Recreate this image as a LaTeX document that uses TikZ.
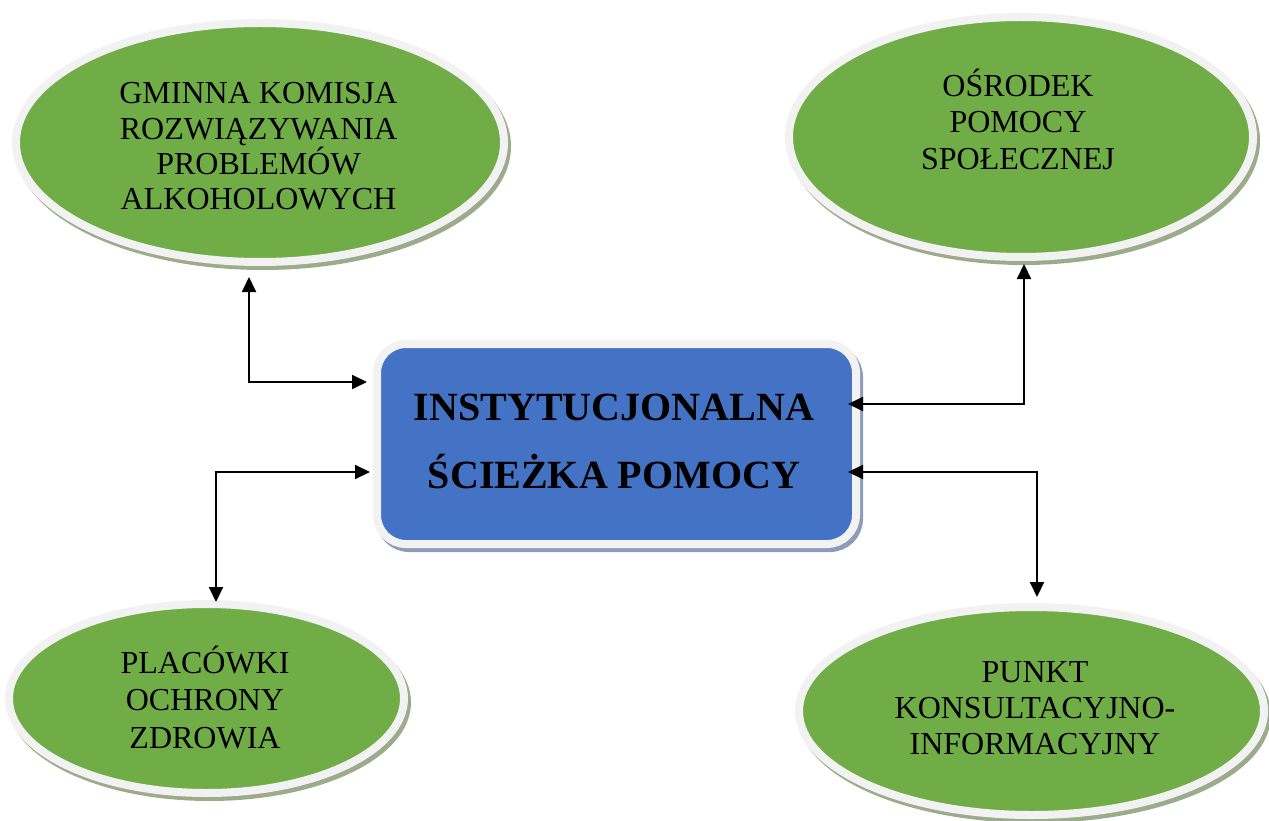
\documentclass[tikz,border=0pt]{standalone}
\usepackage{fontspec}
\setmainfont{Liberation Serif}
\usetikzlibrary{shapes.geometric,arrows.meta,calc}
\definecolor{grn}{HTML}{70AD47}
\definecolor{blu}{HTML}{4472C4}
\definecolor{rim}{HTML}{F2F2F2}
\definecolor{gshad}{HTML}{9CAB8C}
\definecolor{bshad}{HTML}{8D9CB8}
\newcommand{\ph}{\vphantom{Śy}}
\tikzset{
  ell/.style={ellipse, fill=grn, draw=rim, line width=8pt, inner sep=0pt, outer sep=4pt,
    preaction={fill=gshad, draw=gshad, line width=8pt, transform canvas={shift={(3,4)}}}},
  centerbox/.style={rectangle, rounded corners=29pt, fill=blu, draw=rim, line width=8pt,
    inner sep=0pt, outer sep=4pt,
    preaction={fill=bshad, draw=bshad, line width=8pt, transform canvas={shift={(3,4)}}}},
  txt/.style={align=center, inner sep=0pt, text=black},
  conn/.style={line width=2pt, {Triangle[length=15pt,width=14pt]}-{Triangle[length=15pt,width=14pt]}}
}
\begin{document}
\begin{tikzpicture}[x=1pt,y=-1pt]
\useasboundingbox (0,0) rectangle (1269,821);
% ellipses
\node[ell, minimum width=488pt, minimum height=239pt] (e1) at (260,142.5) {};
\node[ell, minimum width=464pt, minimum height=240pt] (e2) at (1021,137) {};
\node[ell, minimum width=395pt, minimum height=189pt] (e3) at (206.5,698.5) {};
\node[ell, minimum width=465pt, minimum height=208pt] (e4) at (1031.5,711) {};
% center box
\node[centerbox, minimum width=479pt, minimum height=200pt] (r) at (616.5,444) {};
% texts
\node[txt, font=\fontsize{32}{35.3}\selectfont] (t1) at (258.5,146.5)
  {\ph GMINNA KOMISJA\\ROZWIĄZYWANIA\\PROBLEMÓW\\ALKOHOLOWYCH\ph};
\node[txt, font=\fontsize{32}{36.5}\selectfont] (t2) at (1018,122.5)
  {\ph OŚRODEK\\POMOCY\\SPOŁECZNEJ\ph};
\node[txt, font=\fontsize{32}{37.5}\selectfont] (t3) at (205,700.5)
  {\ph PLACÓWKI\\OCHRONY\\ZDROWIA\ph};
\node[txt, font=\fontsize{32}{36}\selectfont] (t4) at (1035,708)
  {\ph PUNKT\\KONSULTACYJNO-\\INFORMACYJNY\ph};
\node[txt, font=\bfseries\fontsize{40}{68}\selectfont] (tr) at (614,442)
  {\ph INSTYTUCJONALNA\\ŚCIEŻKA POMOCY\ph};
% connectors
\draw[conn] ($(e1.south)+(-11,11)$) |- ($(r.west)+(-6,-62)$);
\draw[conn] ($(e2.south)+(3,3)$) |- ($(r.east)+(-12,-40)$);
\draw[conn] ($(r.west)+(-3,28)$) -| ($(e3.north)+(9.5,2)$);
\draw[conn] ($(r.east)+(-12,28)$) -| ($(e4.north)+(5.5,-6)$);
\end{tikzpicture}
\end{document}
